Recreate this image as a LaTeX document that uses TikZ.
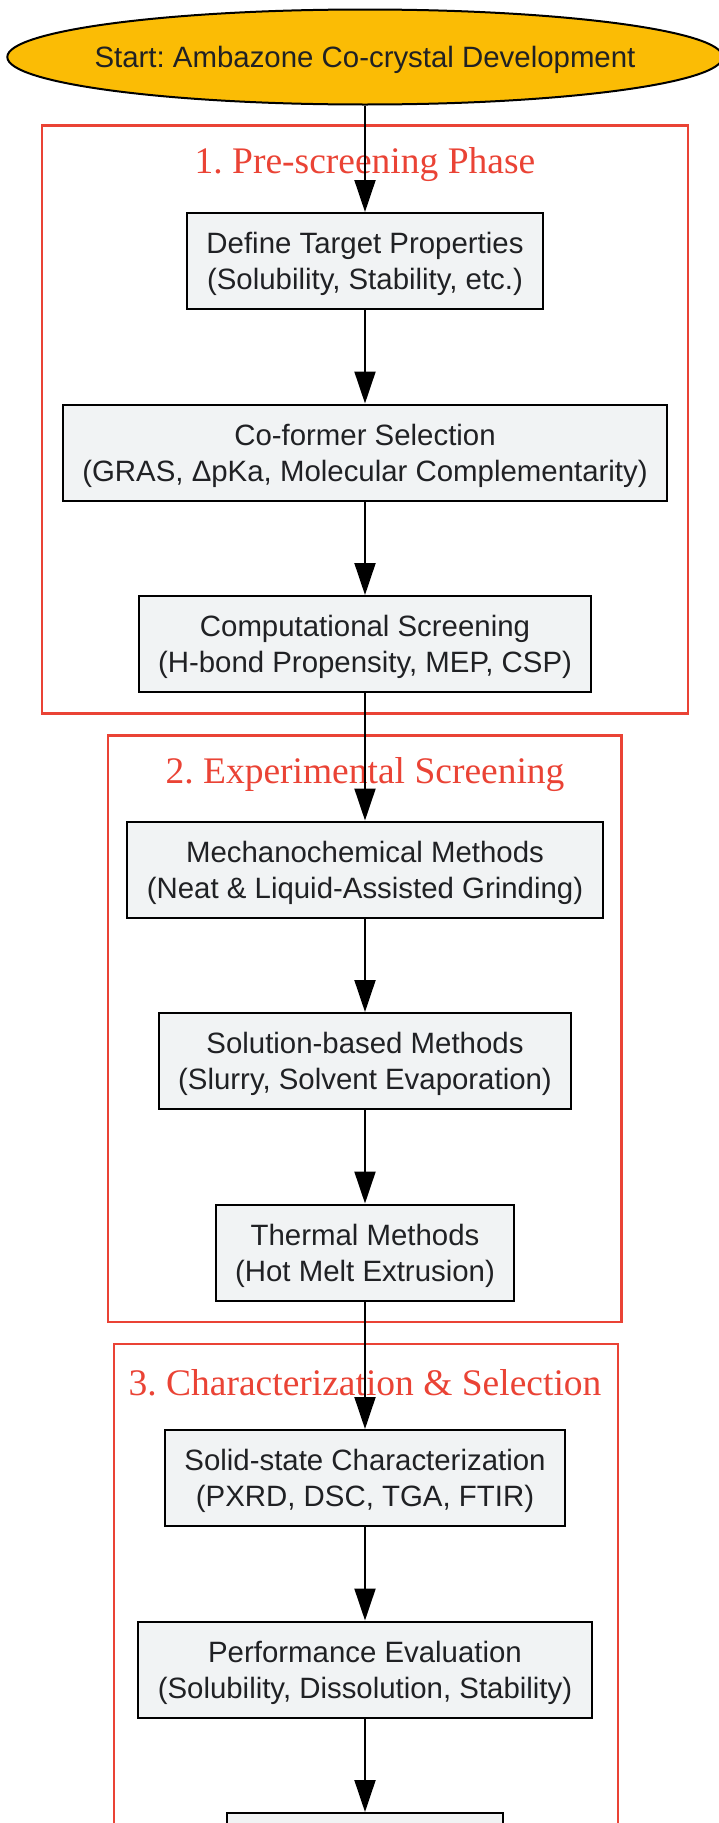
\documentclass[tikz,border=0pt]{standalone}
\usepackage{fontspec}
\setmainfont{Liberation Sans}
\newfontfamily\titlefont{Liberation Serif}
\usetikzlibrary{shapes.geometric,arrows.meta,positioning}
\frenchspacing
\definecolor{startfill}{HTML}{FBBC05}
\definecolor{boxfill}{HTML}{F1F3F4}
\definecolor{boxtext}{HTML}{202124}
\definecolor{phasered}{HTML}{EA4335}
\tikzset{
  procbox/.style = {draw = black, fill = boxfill, text = boxtext, line width = 2pt,
    align = center, minimum height = 96pt, inner xsep = 19.5pt, text depth = -5.5pt,
    font = \fontsize{29.4}{36}\selectfont},
  startnode/.style = {ellipse, draw = black, fill = startfill, text = boxtext, line width = 2pt,
    inner xsep = -17.5pt, inner ysep = 0pt, minimum width = 714pt, minimum height = 95pt,
    text depth = -1.5pt, font = \fontsize{29.4}{36}\selectfont},
  phasebox/.style = {draw = phasered, line width = 2.5pt},
  phasetitle/.style = {text = phasered, font = \titlefont\fontsize{37.5}{44}\selectfont},
  flowarrow/.style = {draw = black, line width = 2pt, -{Triangle[length=32pt,width=21pt]}}
}
\begin{document}
\begin{tikzpicture}[x = 1pt, y = -1pt]
\useasboundingbox (0,0) rectangle (718,1823);
% phase frames
\draw[phasebox] (42,125.5) rectangle (688,713.5);
\draw[phasebox] (108,735.5) rectangle (621.5,1322);
\draw[phasebox] (114,1344) rectangle (618,1950);
\node[phasetitle] (t1) at (365,165) {1. Pre-screening Phase};
\node[phasetitle] (t2) at (365,775) {2. Experimental Screening};
\node[phasetitle] (t3) at (365,1383) {3. Characterization \& Selection};
% steps
\node[startnode] (start) at (365,57) {Start: Ambazone Co-crystal Development};
\node[procbox] (target) at (365,261) {Define Target Properties\\(Solubility, Stability, etc.)};
\node[procbox, below = 93.5pt of target] (coformer) {Co-former Selection\\(GRAS, ΔpKa, Molecular Complementarity)};
\node[procbox, below = 93.5pt of coformer] (comput) {Computational Screening\\(H-bond Propensity, MEP, CSP)};
\node[procbox] (mechano) at (365,869.5) {Mechanochemical Methods\\(Neat \& Liquid-Assisted Grinding)};
\node[procbox, below = 93.5pt of mechano] (solution) {Solution-based Methods\\(Slurry, Solvent Evaporation)};
\node[procbox, below = 93.5pt of solution] (thermal) {Thermal Methods\\(Hot Melt Extrusion)};
\node[procbox] (solid) at (365,1478) {Solid-state Characterization\\(PXRD, DSC, TGA, FTIR)};
\node[procbox, below = 93.5pt of solid] (perform) {Performance Evaluation\\(Solubility, Dissolution, Stability)};
\node[procbox, below = 93.5pt of perform, minimum width = 276pt] (final) {};
% arrows
\foreach \a/\b in {start/target, target/coformer, coformer/comput, comput/mechano,
  mechano/solution, solution/thermal, thermal/solid, solid/perform, perform/final}
  \draw[flowarrow] (\a) -- (\b);
\end{tikzpicture}
\end{document}
